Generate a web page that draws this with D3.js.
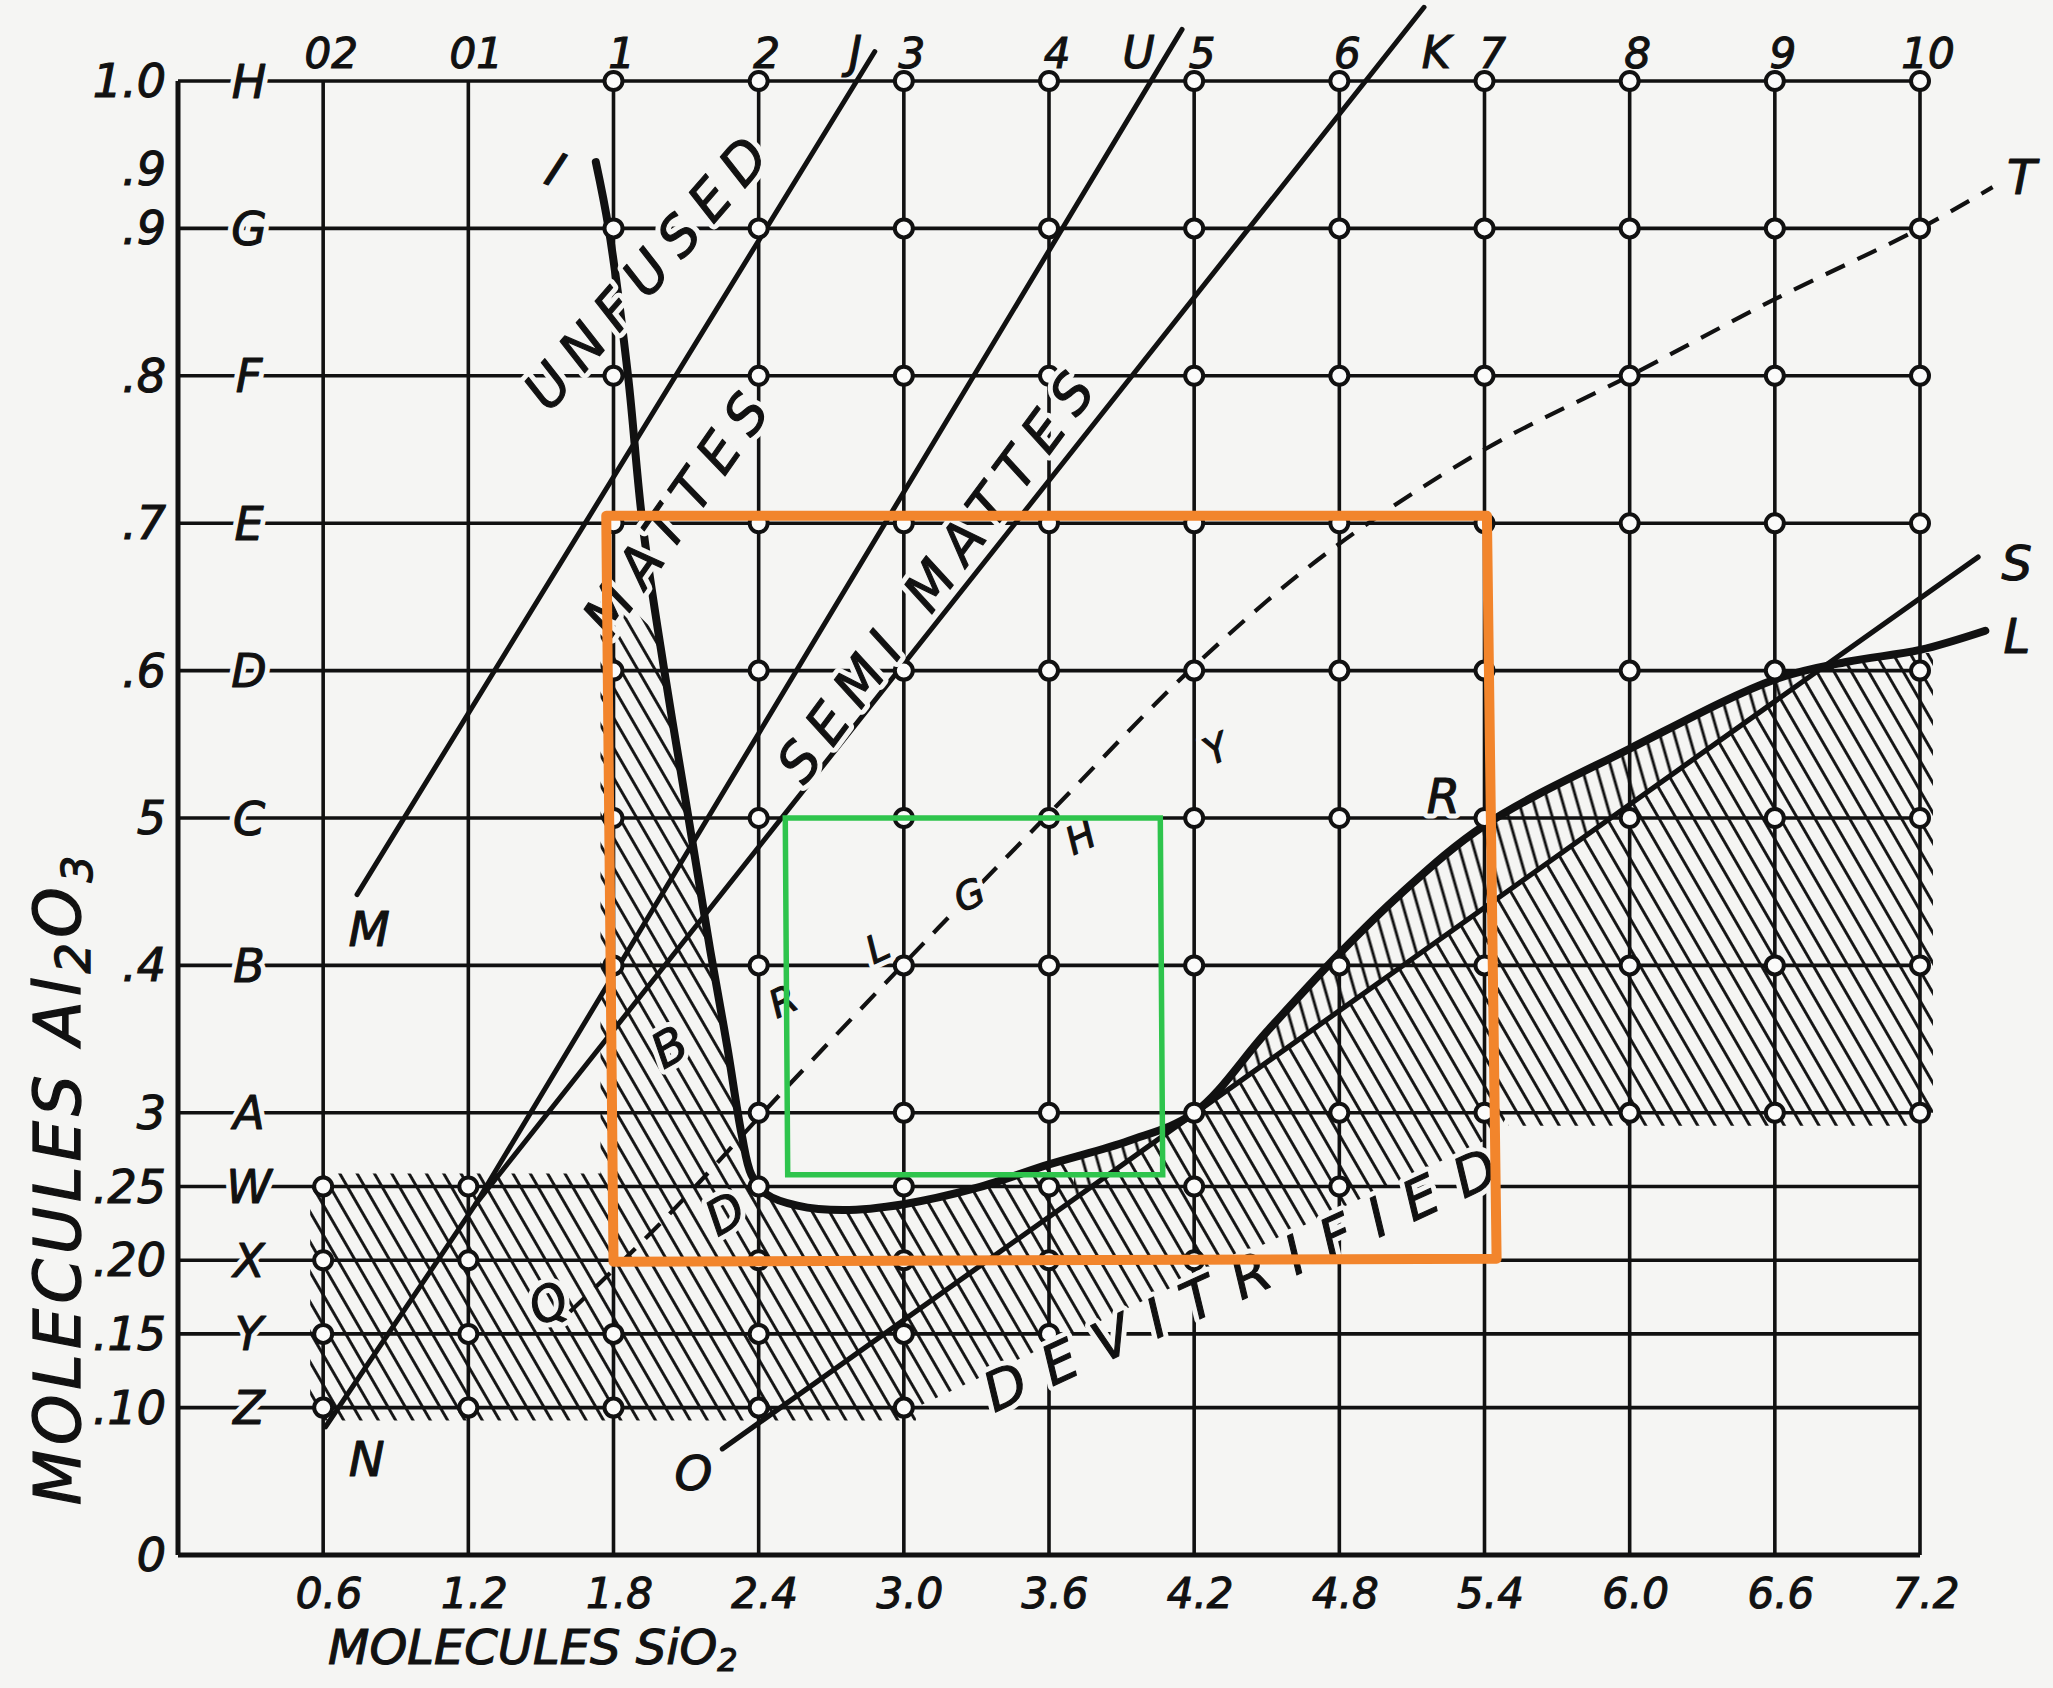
<!DOCTYPE html>
<html>
<head>
<meta charset="utf-8">
<script src="https://cdn.jsdelivr.net/npm/d3@7"></script>
<style>
  html, body { margin: 0; padding: 0; background: #f5f5f3; }
  svg { display: block; }
  text { font-family: "DejaVu Sans", sans-serif; font-style: italic; fill: #111; }
</style>
</head>
<body>
<div id="chart"></div>
<script>
// ---- values ----
const siO2Ticks = [0.6, 1.2, 1.8, 2.4, 3.0, 3.6, 4.2, 4.8, 5.4, 6.0, 6.6, 7.2];
const siO2Labels = ["0.6", "1.2", "1.8", "2.4", "3.0", "3.6", "4.2", "4.8", "5.4", "6.0", "6.6", "7.2"];
const coneLabels = ["02", "01", "1", "2", "3", "4", "5", "6", "7", "8", "9", "10"];
const al2O3Rows = [1.0, 0.9, 0.8, 0.7, 0.6, 0.5, 0.4, 0.3, 0.25, 0.20, 0.15, 0.10];
const rowLetters = ["H", "G", "F", "E", "D", "C", "B", "A", "W", "X", "Y", "Z"];
const yTickValues = [1.0, 0.94, 0.9, 0.8, 0.7, 0.6, 0.5, 0.4, 0.3, 0.25, 0.20, 0.15, 0.10, 0];
const yTickLabels = ["1.0", ".9", ".9", ".8", ".7", ".6", "5", ".4", "3", ".25", ".20", ".15", ".10", "0"];

// test points (open circles): SiO2 columns for each Al2O3 row
const testCols = [
  [1.8, 2.4, 3.0, 3.6, 4.2, 4.8, 5.4, 6.0, 6.6, 7.2],
  [1.8, 2.4, 3.0, 3.6, 4.2, 4.8, 5.4, 6.0, 6.6, 7.2],
  [1.8, 2.4, 3.0, 3.6, 4.2, 4.8, 5.4, 6.0, 6.6, 7.2],
  [1.8, 2.4, 3.0, 3.6, 4.2, 4.8, 5.4, 6.0, 6.6, 7.2],
  [1.8, 2.4, 3.0, 3.6, 4.2, 4.8, 5.4, 6.0, 6.6, 7.2],
  [1.8, 2.4, 3.0, 3.6, 4.2, 4.8, 5.4, 6.0, 6.6, 7.2],
  [1.8, 2.4, 3.0, 3.6, 4.2, 4.8, 5.4, 6.0, 6.6, 7.2],
  [2.4, 3.0, 3.6, 4.2, 4.8, 5.4, 6.0, 6.6, 7.2],
  [0.6, 1.2, 2.4, 3.0, 3.6, 4.2, 4.8],
  [0.6, 1.2, 2.4, 3.0, 3.6, 4.2],
  [0.6, 1.2, 1.8, 2.4, 3.0, 3.6],
  [0.6, 1.2, 1.8, 2.4, 3.0]
];

// boundary lines [SiO2, Al2O3]
const lineJ = [[0.74, 0.448], [2.88, 1.02]];
const lineU = [[0.61, 0.087], [1.23, 0.238], [4.15, 1.035]];
const lineK = [[1.23, 0.238], [5.15, 1.05]];
const lineS = [[2.25, 0.072], [7.44, 0.677]];
const curveIL = [[1.727, 0.945], [1.78, 0.9], [1.86, 0.8], [1.92, 0.7], [2.01, 0.6], [2.11, 0.5],
  [2.2, 0.41], [2.27, 0.345], [2.33, 0.285], [2.37, 0.258], [2.43, 0.245], [2.56, 0.237],
  [2.75, 0.234], [3.0, 0.238], [3.3, 0.249], [3.6, 0.265], [3.93, 0.281], [4.2, 0.3],
  [4.5, 0.355], [4.8, 0.408], [5.05, 0.448], [5.4, 0.495], [6.0, 0.547], [6.6, 0.594],
  [6.9, 0.606], [7.2, 0.614], [7.47, 0.627]];
const lineT = [[1.62, 0.165], [2.0, 0.226], [2.52, 0.318], [3.14, 0.425], [3.63, 0.508],
  [4.2, 0.603], [4.75, 0.68], [5.4, 0.75], [6.0, 0.80], [6.6, 0.852], [7.2, 0.9], [7.5, 0.928]];
// outline of the devitrified (hatched) area apart from the I-L curve
const hatchOutline = [[7.2, 0.3], [5.5, 0.3], [5.45, 0.285], [3.05, 0.10], [0.6, 0.10],
  [0.6, 0.25], [1.8, 0.25], [1.8, 0.655]];

const zoneLabels = [
  { text: "UNFUSED", at: [1.95, 0.873], angle: -49 },
  { text: "MATTES", at: [2.07, 0.71], angle: -55 },
  { text: "SEMI MATTES", at: [3.145, 0.667], angle: -53.5 },
  { text: "DEVITRIFIED", at: [4.43, 0.19], angle: -24.5 }
];
const pointLetters = [
  ["I", 1.56, 0.94, 22], ["M", 0.79, 0.425, 0], ["N", 0.78, 0.065, 0], ["O", 2.13, 0.056, 0],
  ["Q", 1.53, 0.171, -30], ["B", 2.03, 0.345, -30], ["D", 2.26, 0.232, -30],
  ["R", 2.5, 0.376, -25], ["L", 2.89, 0.412, -25], ["G", 3.27, 0.448, -25],
  ["H", 3.73, 0.487, -25], ["Y", 4.29, 0.547, -25],
  ["R", 5.23, 0.515, 0], ["S", 7.6, 0.673, 0], ["L", 7.6, 0.624, 0], ["T", 7.62, 0.935, 0]
];
const topLetters = [["J", 2.8], ["U", 3.97], ["K", 5.2]];

const orangeBox = [[1.77, 0.705], [5.41, 0.705], [5.45, 0.201], [1.80, 0.199]];
const greenBox = [[2.51, 0.50], [4.06, 0.50], [4.07, 0.258], [2.52, 0.258]];

// ---- drawing ----
const W = 2053, H = 1688;
const ink = "#111", paper = "#f5f5f3";

const svg = d3.select("#chart").append("svg").attr("width", W).attr("height", H);
svg.append("rect").attr("width", W).attr("height", H).attr("fill", paper);

const x = d3.scaleLinear().domain([0, 7.2]).range([178, 1920]);
const y = d3.scaleLinear().domain([0, 1]).range([1555, 81]);
const line = d3.line().x(d => x(d[0])).y(d => y(d[1]));
const smooth = d3.line().x(d => x(d[0])).y(d => y(d[1])).curve(d3.curveCatmullRom.alpha(0.5));

const defs = svg.append("defs");
function hatch(id, angle, gap) {
  const p = defs.append("pattern").attr("id", id)
    .attr("patternUnits", "userSpaceOnUse")
    .attr("width", gap).attr("height", gap)
    .attr("patternTransform", `rotate(${angle})`);
  p.append("line").attr("x1", gap / 2).attr("y1", -1).attr("x2", gap / 2).attr("y2", gap + 1)
    .attr("stroke", ink).attr("stroke-width", 2.9);
}
hatch("hatchA", -30, 15);
hatch("hatchB", -16, 14);

// sample the I-L curve so the hatch can follow it
const tmp = svg.append("path").attr("d", smooth(curveIL));
const node = tmp.node(), total = node.getTotalLength();
const samples = d3.range(0, total, 2).concat([total]).map(l => {
  const p = node.getPointAtLength(l);
  return [p.x, p.y];
});
tmp.remove();

const i0 = samples.findIndex(p => p[1] >= y(0.625));
const i1 = samples.findIndex(p => p[0] >= x(7.2));
const outlinePx = hatchOutline.map(d => [x(d[0]), y(d[1])]);
const mainPoly = samples.slice(i0, i1 + 1).concat(outlinePx);

const sAt = v => lineS[0][1] + (v - lineS[0][0]) * (lineS[1][1] - lineS[0][1]) / (lineS[1][0] - lineS[0][0]);
const lensA = 3.7, lensB = 6.76;
const la = samples.findIndex(p => p[0] >= x(lensA));
const lb = samples.findIndex(p => p[0] >= x(lensB));
const lensPoly = samples.slice(la, lb + 1).concat([[x(lensB), y(sAt(lensB))], [x(lensA), y(sAt(lensA))]]);

const hair = 13;
const strips = [
  [x(0.6), y(0.25) - hair, x(1.8) - x(0.6), hair],
  [x(0.6) - hair, y(0.25), hair, y(0.10) - y(0.25)],
  [x(0.6), y(0.10), x(3.05) - x(0.6), hair],
  [x(1.8) - hair, y(0.655), hair, y(0.25) - y(0.655)],
  [x(5.5), y(0.3), x(7.2) - x(5.5), hair],
  [x(7.2), y(0.612), hair, y(0.3) - y(0.612)]
];

const clip = defs.append("clipPath").attr("id", "hatchClip");
clip.append("path").attr("d", "M" + mainPoly.join("L") + "Z");
strips.forEach(s => clip.append("rect").attr("x", s[0]).attr("y", s[1]).attr("width", s[2]).attr("height", s[3]));
defs.append("clipPath").attr("id", "lensClip")
  .append("path").attr("d", "M" + lensPoly.join("L") + "Z");

svg.append("rect").attr("width", W).attr("height", H)
  .attr("fill", "url(#hatchA)").attr("clip-path", "url(#hatchClip)");
svg.append("rect").attr("width", W).attr("height", H)
  .attr("fill", paper).attr("clip-path", "url(#lensClip)");
svg.append("rect").attr("width", W).attr("height", H)
  .attr("fill", "url(#hatchB)").attr("clip-path", "url(#lensClip)");

// grid
const grid = svg.append("g").attr("stroke", ink);
grid.selectAll("line.row").data([0].concat(al2O3Rows)).join("line").attr("class", "row")
  .attr("x1", x(0)).attr("x2", x(7.2)).attr("y1", d => y(d)).attr("y2", d => y(d))
  .attr("stroke-width", d => d === 0 ? 5 : 3.6);
grid.selectAll("line.col").data([0].concat(siO2Ticks)).join("line").attr("class", "col")
  .attr("x1", d => x(d)).attr("x2", d => x(d)).attr("y1", y(0)).attr("y2", y(1))
  .attr("stroke-width", d => d === 0 ? 5 : 3.6);

// field boundary lines
const lines = svg.append("g").attr("fill", "none").attr("stroke", ink).attr("stroke-linecap", "round");
[lineJ, lineU, lineK].forEach(l => lines.append("path").attr("d", line(l)).attr("stroke-width", 5));
lines.append("path").attr("d", line(lineS)).attr("stroke-width", 5.2);
lines.append("path").attr("d", smooth(lineT)).attr("stroke-width", 4.2)
  .attr("stroke-dasharray", "21 14").attr("stroke-linecap", "butt");
lines.append("path").attr("d", smooth(curveIL)).attr("stroke-width", 8);

// test point circles
const pts = al2O3Rows.flatMap((r, i) => testCols[i].map(c => [c, r]));
svg.append("g").selectAll("circle").data(pts).join("circle")
  .attr("cx", d => x(d[0])).attr("cy", d => y(d[1])).attr("r", 9)
  .attr("fill", "#fbfbfa").attr("stroke", ink).attr("stroke-width", 4);

// text helper: optional paper halo under an inked, slightly thickened glyph
function put(t, px, py, size, angle, halo, spacing) {
  const tr = `translate(${px},${py}) rotate(${angle || 0})`;
  const layers = halo ? [true, false] : [false];
  let el;
  layers.forEach(isHalo => {
    el = svg.append("text").attr("transform", tr)
      .attr("text-anchor", "middle").attr("dy", "0.36em")
      .attr("font-size", size).attr("letter-spacing", spacing || 0).text(t)
      .attr("stroke", isHalo ? paper : ink)
      .attr("stroke-width", isHalo ? 11 : 1.1)
      .attr("stroke-linejoin", "round");
  });
  return el;
}

// axis labels
yTickLabels.forEach((t, i) => {
  svg.append("text").attr("x", 166).attr("y", y(yTickValues[i]) + 16)
    .attr("text-anchor", "end").attr("font-size", 46)
    .attr("stroke", ink).attr("stroke-width", 1.1).text(t);
});
rowLetters.forEach((t, i) => put(t, 249, y(al2O3Rows[i]), 46, 0, true));
siO2Labels.forEach((t, i) => {
  svg.append("text").attr("x", x(siO2Ticks[i]) + 6).attr("y", 1608)
    .attr("text-anchor", "middle").attr("font-size", 42)
    .attr("stroke", ink).attr("stroke-width", 1.1).text(t);
});
coneLabels.forEach((t, i) => {
  svg.append("text").attr("x", x(siO2Ticks[i]) + 8).attr("y", y(1) - 13)
    .attr("text-anchor", "middle").attr("font-size", 42)
    .attr("stroke", ink).attr("stroke-width", 1.1).text(t);
});
topLetters.forEach(d => {
  svg.append("text").attr("x", x(d[1])).attr("y", y(1) - 13)
    .attr("text-anchor", "middle").attr("font-size", 44)
    .attr("stroke", ink).attr("stroke-width", 1.1).text(d[0]);
});

// axis titles
const xt = svg.append("text").attr("x", 328).attr("y", 1664).attr("font-size", 48)
  .attr("stroke", ink).attr("stroke-width", 1.1);
xt.append("tspan").text("MOLECULES SiO");
xt.append("tspan").attr("font-size", 32).attr("dy", 7).text("2");

const yt = svg.append("text").attr("transform", "translate(80,1178) rotate(-90)")
  .attr("text-anchor", "middle").attr("font-size", 64).attr("letter-spacing", 5)
  .attr("stroke", ink).attr("stroke-width", 1.3);
yt.append("tspan").text("MOLECULES Al");
yt.append("tspan").attr("font-size", 48).attr("dy", 10).text("2");
yt.append("tspan").attr("dy", -10).text("O");
yt.append("tspan").attr("font-size", 42).attr("dy", 12).text("3");

// zone labels
zoneLabels.forEach(d => {
  const dev = d.text === "DEVITRIFIED";
  put(d.text, x(d.at[0]), y(d.at[1]), 54, d.angle, true, dev ? 22 : 13);
});
pointLetters.forEach(d => {
  const small = d[3] === -25;
  put(d[0], x(d[1]), y(d[2]), small ? 38 : 48, d[3], true);
});

// annotation boxes
svg.append("path").attr("d", line(orangeBox) + "Z").attr("fill", "none")
  .attr("stroke", "#f2852c").attr("stroke-width", 10).attr("stroke-linejoin", "round");
svg.append("path").attr("d", line(greenBox) + "Z").attr("fill", "none")
  .attr("stroke", "#2ec44c").attr("stroke-width", 5.5);
</script>
</body>
</html>
